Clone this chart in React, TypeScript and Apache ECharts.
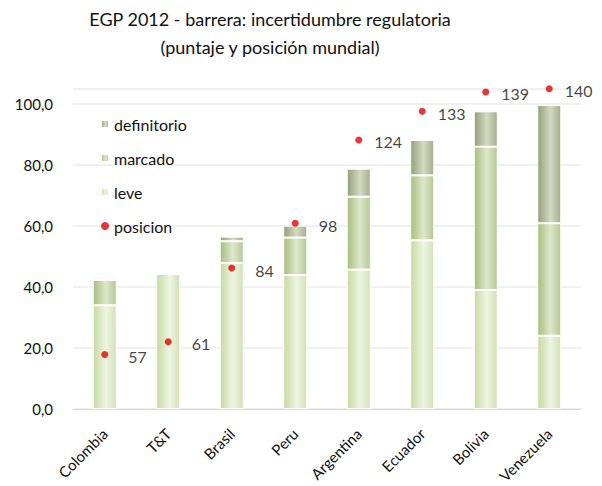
import React, { useEffect, useRef } from "react";
import * as echarts from "echarts";

const categories = ["Colombia", "T&T", "Brasil", "Peru", "Argentina", "Ecuador", "Bolivia", "Venezuela"];
const leve = [34.0, 44.3, 47.9, 43.9, 45.7, 55.3, 39.0, 24.0];
const marcado = [8.3, 0, 7.1, 12.3, 23.9, 21.3, 47.0, 36.9];
const definitorio = [0.7, 0, 1.5, 3.9, 9.2, 11.6, 11.6, 38.8];
const posicion = [57, 61, 84, 98, 124, 133, 139, 140];
const yTicks = [0, 20, 40, 60, 80, 100];
const titleLines = ["EGP 2012 - barrera: incertidumbre regulatoria", "(puntaje y posición mundial)"];

const FONT = "Lato, 'Open Sans', sans-serif";

function grad(edge: string, mid: string, edge2: string) {
  return new echarts.graphic.LinearGradient(0, 0, 1, 0, [
    { offset: 0, color: edge },
    { offset: 0.55, color: mid },
    { offset: 1, color: edge2 },
  ]);
}

export default function App() {
  const ref = useRef<HTMLDivElement>(null);
  useEffect(() => {
    document.body.style.margin = "0";
    if (!ref.current) return;
    const chart = echarts.init(ref.current, undefined, { renderer: "svg" });
    const barBase = {
      type: "bar" as const,
      stack: "s",
      barWidth: 24,
      yAxisIndex: 0,
    };
    chart.setOption({
      animation: false,
      backgroundColor: "#ffffff",
      textStyle: { fontFamily: FONT },
      title: titleLines.map((t, i) => ({
        text: t,
        left: 265,
        textAlign: "center",
        top: 5 + i * 28,
        textStyle: { fontFamily: FONT, fontSize: 18, fontWeight: "normal", color: "#111" },
      })),
      legend: {
        orient: "vertical",
        left: 95,
        top: 111,
        itemGap: 18,
        itemWidth: 8,
        itemHeight: 8,
        data: [
          { name: "definitorio", icon: "rect" },
          { name: "marcado", icon: "rect" },
          { name: "leve", icon: "rect" },
          { name: "posicion", icon: "circle" },
        ],
        textStyle: { fontFamily: FONT, fontSize: 16, color: "#111" },
      },
      grid: { left: 73, right: 21, top: 88.75, bottom: 77, containLabel: false },
      xAxis: {
        type: "category",
        data: categories,
        axisLine: { lineStyle: { color: "#d9d9d9" } },
        axisTick: { show: false },
        axisLabel: { rotate: 45, fontFamily: FONT, fontSize: 15, color: "#111", margin: 22, interval: 0 },
      },
      yAxis: [
        {
          type: "value",
          min: 0,
          max: 105,
          interval: 20,
          axisLine: { show: false },
          axisTick: { show: false },
          splitLine: { lineStyle: { color: "#ececec", width: 1.5 } },
          axisLabel: {
            fontFamily: FONT,
            fontSize: 15,
            color: "#111",
            margin: 20,
            formatter: (v: number) => (yTicks.includes(v) ? v.toFixed(1).replace(".", ",") : ""),
          },
        },
        {
          type: "value",
          min: 40,
          max: 140,
          show: false,
          splitLine: { show: false },
        },
      ],
      series: [
        {
          ...barBase,
          name: "leve",
          data: leve,
          itemStyle: { color: grad("#c6da9f", "#eef4e2", "#d2e2b6"), borderColor: "#ffffff", borderWidth: 1 },
        },
        {
          ...barBase,
          name: "marcado",
          data: marcado,
          itemStyle: { color: grad("#a6bd7d", "#dfe7cb", "#b4c894"), borderColor: "#ffffff", borderWidth: 1 },
        },
        {
          ...barBase,
          name: "definitorio",
          data: definitorio,
          itemStyle: { color: grad("#939f78", "#d5dac5", "#a3ad8a"), borderColor: "#ffffff", borderWidth: 1 },
        },
        {
          type: "scatter",
          name: "posicion",
          yAxisIndex: 1,
          data: posicion.map((v) => ({
            value: v,
            label: { distance: v >= 100 ? 12 : 20 },
          })),
          symbol: "circle",
          symbolSize: 7,
          itemStyle: { color: "#e80000" },
          label: {
            show: true,
            position: "right",
            offset: [0, 2],
            fontFamily: FONT,
            fontSize: 16,
            color: "#111",
          },
        },
      ],
    });
    return () => chart.dispose();
  }, []);
  return <div ref={ref} style={{ width: 602, height: 486 }} />;
}
